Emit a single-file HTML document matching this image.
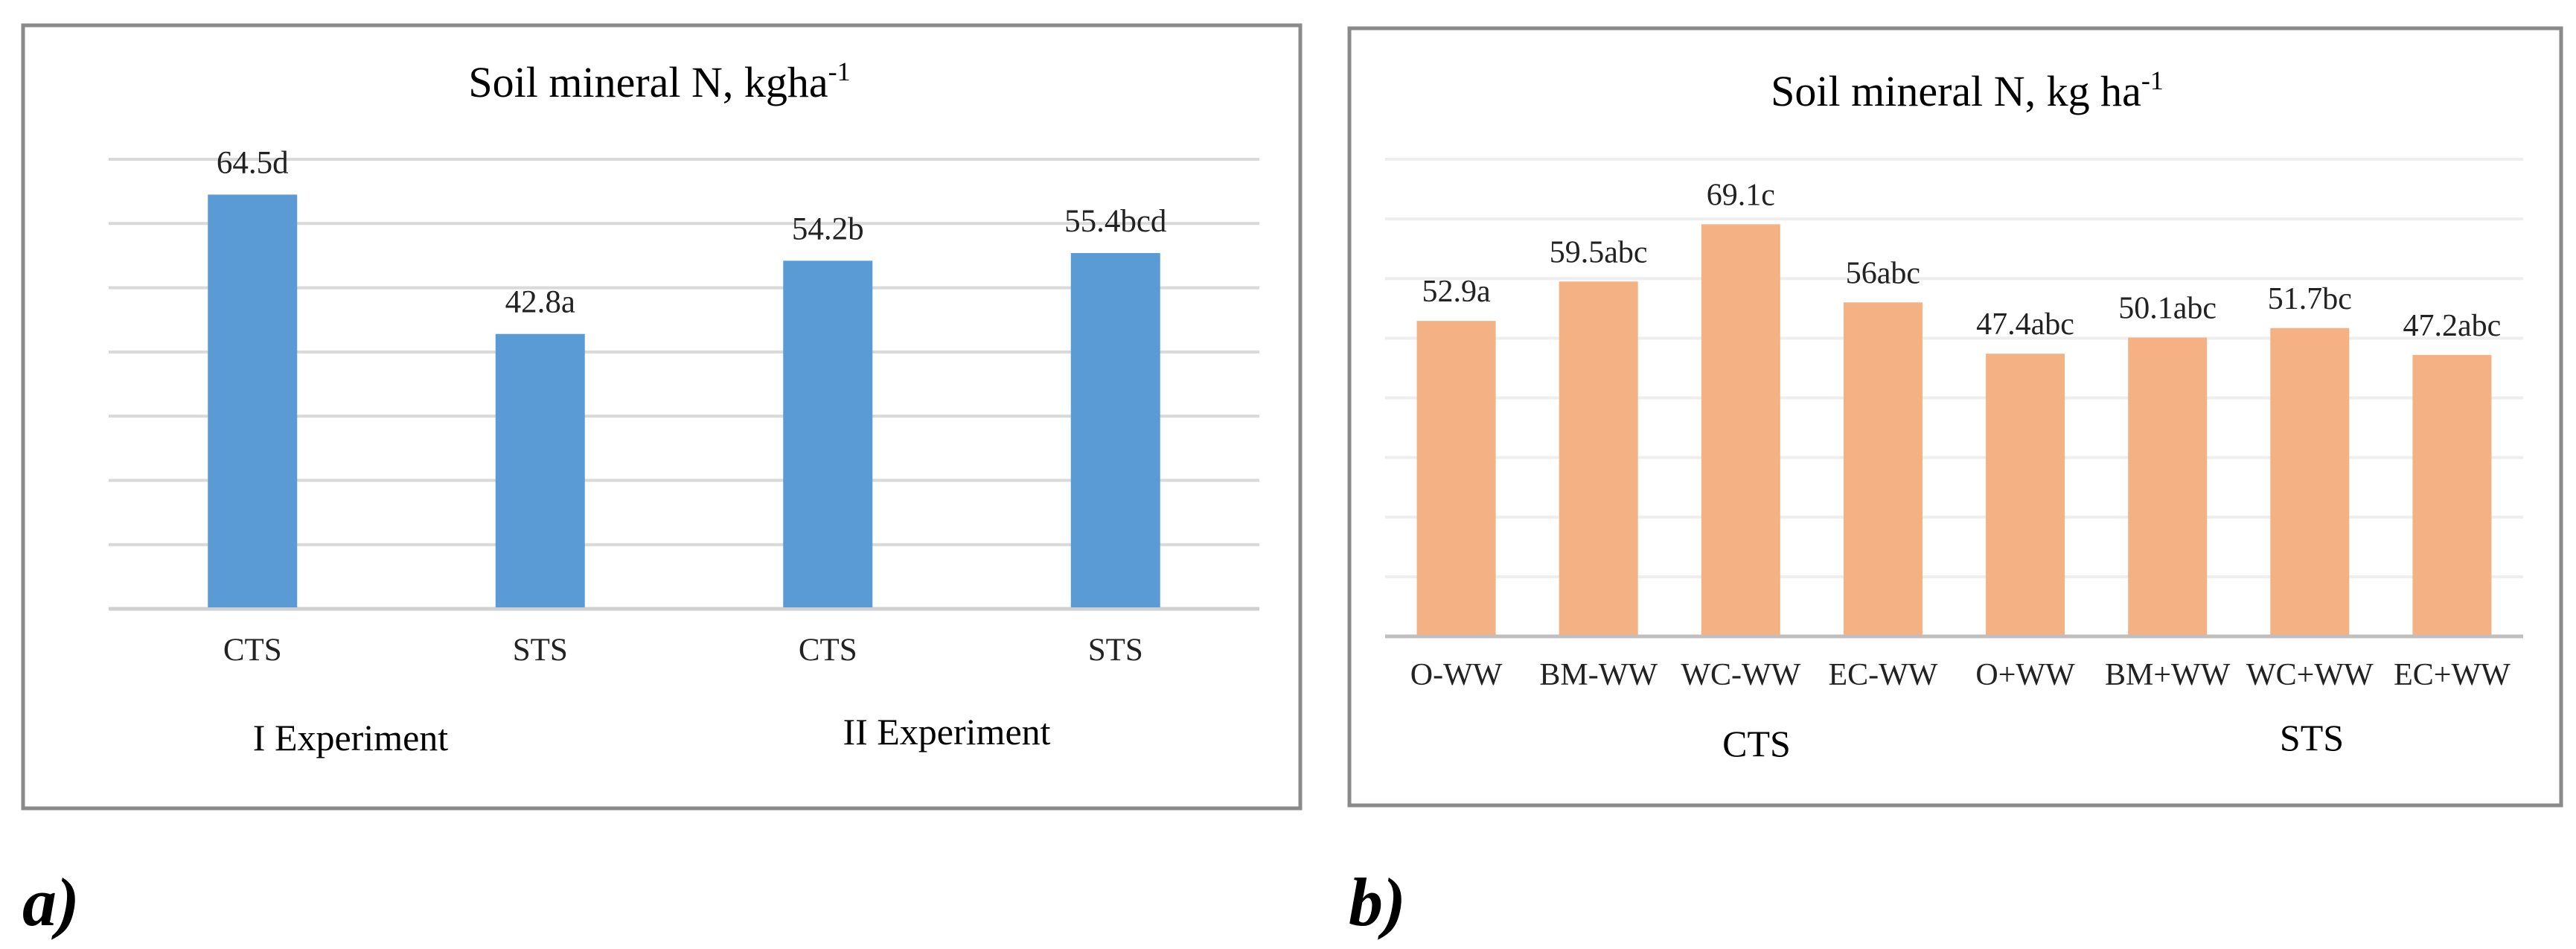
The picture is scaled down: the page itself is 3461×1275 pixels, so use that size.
<!DOCTYPE html>
<html><head><meta charset="utf-8"><style>
html,body{margin:0;padding:0;background:#fff;}
svg{display:block;font-family:"Liberation Serif",serif;}
</style></head><body>
<svg id="fig" width="3461" height="1275" viewBox="0 0 3461 1275" xmlns="http://www.w3.org/2000/svg">
<rect x="0" y="0" width="3461" height="1275" fill="#fff"/>
<rect x="31" y="34" width="1716" height="1052" fill="#fff" stroke="#8a8a8a" stroke-width="5"/>
<rect x="1813" y="38" width="1628" height="1044" fill="#fff" stroke="#8a8a8a" stroke-width="5"/>
<text x="886" y="130" font-size="58" text-anchor="middle">Soil mineral  N, kgha<tspan font-size="36" dy="-22">-1</tspan></text>
<text x="2643" y="142" font-size="58" text-anchor="middle">Soil mineral  N, kg  ha<tspan font-size="36" dy="-22">-1</tspan></text>
<g id="ga"></g><g id="gb"></g>
<text x="471" y="1008" font-size="50" text-anchor="middle">I Experiment</text>
<text x="1272" y="1000" font-size="50" text-anchor="middle">II Experiment</text>
<text x="2360" y="1016" font-size="50" text-anchor="middle">CTS</text>
<text x="3106" y="1008" font-size="50" text-anchor="middle">STS</text>
<text x="30" y="1243" font-size="92" font-style="italic" font-weight="bold">a)</text>
<text x="1812" y="1243" font-size="92" font-style="italic" font-weight="bold">b)</text>
</svg>
<script>
const catsA = ["CTS","STS","CTS","STS"];
const valsA = [64.5,42.8,54.2,55.4];
const lblsA = ["64.5d","42.8a","54.2b","55.4bcd"];
const catsB = ["O-WW","BM-WW","WC-WW","EC-WW","O+WW","BM+WW","WC+WW","EC+WW"];
const valsB = [52.9,59.5,69.1,56,47.4,50.1,51.7,47.2];
const lblsB = ["52.9a","59.5abc","69.1c","56abc","47.4abc","50.1abc","51.7bc","47.2abc"];
const ticksA = [0,10,20,30,40,50,60,70];
const ticksB = [0,10,20,30,40,50,60,70,80];
const NS="http://www.w3.org/2000/svg";
function mk(t,a,p){const e=document.createElementNS(NS,t);for(const k in a)e.setAttribute(k,a[k]);p.appendChild(e);return e;}
function draw(g,cfg,cats,vals,lbls,ticks,pre){
  const y=v=>cfg.y0-(v-ticks[0])/(ticks[ticks.length-1]-ticks[0])*(cfg.y0-cfg.y1);
  const bw=(cfg.x1-cfg.x0)/cats.length;
  ticks.forEach((t,i)=>{
    const l=mk('line',{x1:cfg.x0,x2:cfg.x1,y1:y(t),y2:y(t),stroke:i===0?cfg.axis:cfg.grid,'stroke-width':i===0?5:4},g);
    
    
  });
  cats.forEach((c,i)=>{
    const cx=cfg.x0+bw*(i+0.5);
    const r=mk('rect',{x:cx-cfg.w/2,y:y(vals[i]),width:cfg.w,height:y(0)-y(vals[i])-2,fill:cfg.color},g);
    
    
    const t=mk('text',{x:cx,y:y(vals[i])-cfg.off,'font-size':cfg.fs,'text-anchor':'middle',fill:'#222'},g);
    t.textContent=lbls[i];
    
    
    const c2=mk('text',{x:cx,y:cfg.cy,'font-size':cfg.fs,'text-anchor':'middle',fill:'#222'},g);
    c2.textContent=c;
    
    
  });
}
draw(document.getElementById('ga'),{x0:146,x1:1692,y0:818,y1:214,w:120,color:'#5b9bd5',grid:'#d9d9d9',axis:'#d0d0d0',off:29,fs:43,cy:887},catsA,valsA,lblsA,ticksA,'a');
draw(document.getElementById('gb'),{x0:1861,x1:3390,y0:855,y1:214,w:106,color:'#f4b183',grid:'#eeeeee',axis:'#bfbfbf',off:26,fs:42,cy:920},catsB,valsB,lblsB,ticksB,'b');
</script>
</body></html>
